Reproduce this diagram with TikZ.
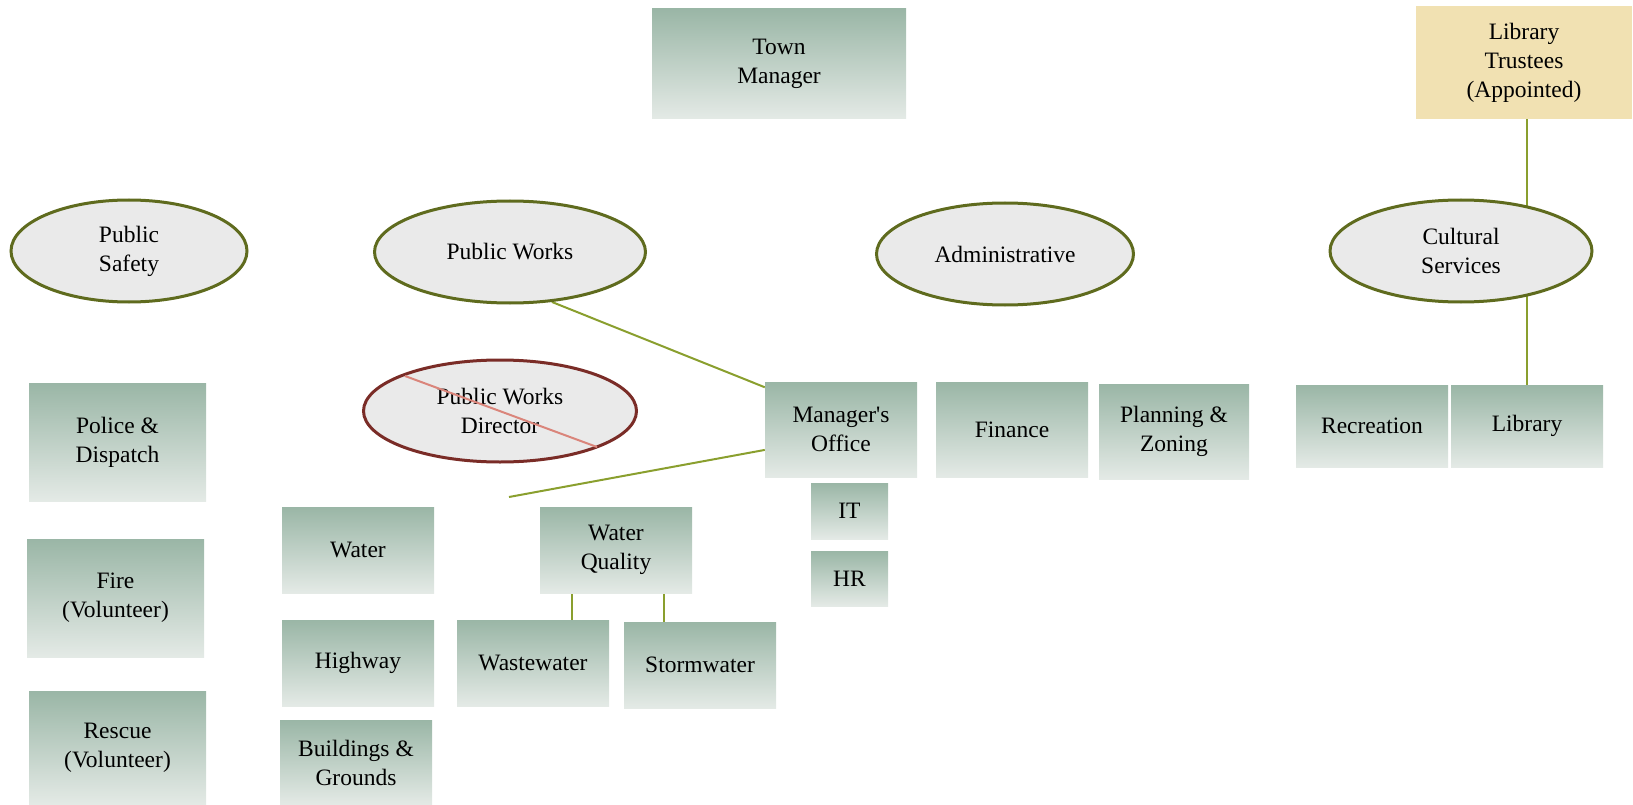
\documentclass[tikz,border=0pt]{standalone}
\usepackage{fontspec}
\setmainfont{Liberation Serif}
\usepackage{tikz}
\usetikzlibrary{shapes.geometric,backgrounds,calc}
\definecolor{boxtop}{HTML}{9AB6A6}
\definecolor{boxbot}{HTML}{E4EAE6}
\definecolor{ovalfill}{HTML}{EAEAEA}
\definecolor{ovaldraw}{HTML}{5F6B1E}
\definecolor{linkgreen}{HTML}{8A9F2E}
\definecolor{trustfill}{HTML}{F1E1B2}
\definecolor{cutdraw}{HTML}{7A2C27}
\definecolor{cutline}{HTML}{DA857B}

\begin{document}
\begin{tikzpicture}[x=1pt,y=-1pt,font=\fontsize{23.5}{29}\selectfont,
  unit node/.style={rectangle,inner sep=2pt,align=center,top color=boxtop,bottom color=boxbot},
  group node/.style={ellipse,draw=ovaldraw,line width=3pt,fill=ovalfill,inner sep=0pt,align=center},
  cut node/.style={group node,draw=cutdraw},
  trustee node/.style={rectangle,fill=trustfill,align=center},
  link/.style={draw=linkgreen,line width=2pt}]
  \useasboundingbox (0,0) rectangle (1633,805);

  % top row
  \node[unit node,minimum width=254pt,minimum height=110pt] (1) at (779,64) {Town\\Manager};
  \node[trustee node,minimum width=216pt,minimum height=113pt] (2) at (1524,62.5) {Library\\Trustees\\(Appointed)};

  % departments
  \node[group node,minimum width=236pt,minimum height=102pt] (3) at (129,251) {Public\\Safety};
  \node[group node,minimum width=271pt,minimum height=102pt] (4) at (510,252) {Public Works};
  \node[group node,minimum width=257pt,minimum height=102pt] (5) at (1005,254) {Administrative};
  \node[group node,minimum width=262pt,minimum height=102pt] (6) at (1461,251) {Cultural\\Services};
  \node[cut node,minimum width=273pt,minimum height=102pt] (7) at (500,411) {Public Works\\Director};
  \draw[cutline,line width=2pt] (405,376) -- (597,447);

  % public safety
  \node[unit node,minimum width=177pt,minimum height=118pt] (8) at (117.5,442) {Police \&\\Dispatch};
  \node[unit node,minimum width=177pt,minimum height=118pt] (9) at (115.5,598) {Fire\\(Volunteer)};
  \node[unit node,minimum width=177pt,minimum height=114pt] (10) at (117.5,748) {Rescue\\(Volunteer)};

  % public works
  \node[unit node,minimum width=152pt,minimum height=86pt] (11) at (358,550) {Water};
  \node[unit node,minimum width=152pt,minimum height=86pt] (12) at (358,663) {Highway};
  \node[unit node,minimum width=152pt,minimum height=85pt] (13) at (356,762.5) {Buildings \&\\Grounds};
  \node[unit node,minimum width=152pt,minimum height=86pt] (14) at (616,550) {Water\\Quality};
  \node[unit node,minimum width=152pt,minimum height=86pt] (15) at (533,663) {Wastewater};
  \node[unit node,minimum width=152pt,minimum height=86pt] (16) at (700,665) {Stormwater};

  % administrative
  \node[unit node,minimum width=152pt,minimum height=95pt] (17) at (841,429.5) {Manager\textquotesingle s\\Office};
  \node[unit node,minimum width=152pt,minimum height=95pt] (18) at (1012,429.5) {Finance};
  \node[unit node,minimum width=150pt,minimum height=95pt] (19) at (1174,431.5) {Planning \&\\Zoning};
  \node[unit node,minimum width=77pt,minimum height=56pt] (20) at (849.5,511) {IT};
  \node[unit node,minimum width=77pt,minimum height=55pt] (21) at (849.5,578.5) {HR};

  % cultural services
  \node[unit node,minimum width=152pt,minimum height=82pt] (22) at (1372,426) {Recreation};
  \node[unit node,minimum width=152pt,minimum height=82pt] (23) at (1527,426) {Library};

  \coordinate (pw) at (509,497);
  \path (14.south west) ++(32,0) coordinate (wq1);
  \path (14.south west) ++(124,0) coordinate (wq2);

  \begin{scope}[on background layer]
    \path[link] (2.south -| 23.north) edge (23.north)
      (4.-50) edge (17.151)
      (17.195) edge (pw)
      (wq1) edge (wq1 |- 15.north)
      (wq2) edge (wq2 |- 16.north);
  \end{scope}
\end{tikzpicture}
\end{document}
